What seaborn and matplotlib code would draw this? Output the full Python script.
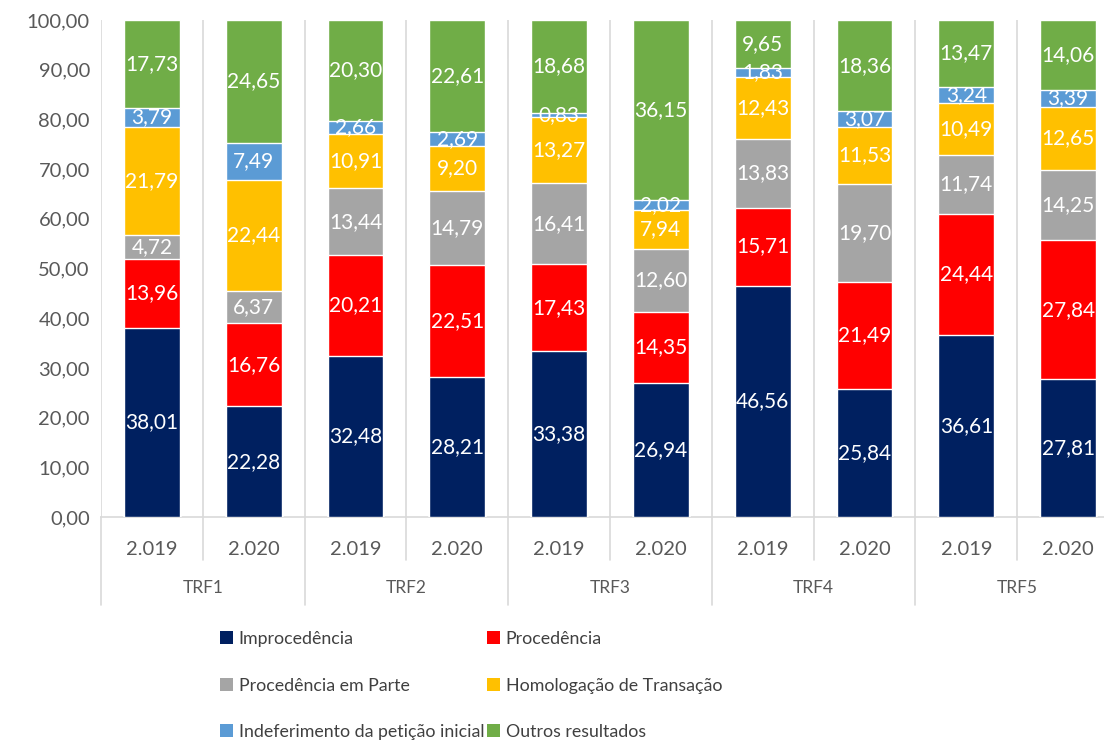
import numpy as np
import pandas as pd
import seaborn as sns
import matplotlib.pyplot as plt
from matplotlib.patches import Patch
import matplotlib.transforms as mtransforms

# dados
tribunais = ["TRF1", "TRF2", "TRF3", "TRF4", "TRF5"]
anos = ["2.019", "2.020"]
categorias = ["Improcedência", "Procedência", "Procedência em Parte",
              "Homologação de Transação", "Indeferimento da petição inicial",
              "Outros resultados"]
cores = ["#002060", "#FF0000", "#A5A5A5", "#FFC000", "#5B9BD5", "#70AD47"]

improcedencia = [38.01, 22.28, 32.48, 28.21, 33.38, 26.94, 46.56, 25.84, 36.61, 27.81]
procedencia = [13.96, 16.76, 20.21, 22.51, 17.43, 14.35, 15.71, 21.49, 24.44, 27.84]
proc_parte = [4.72, 6.37, 13.44, 14.79, 16.41, 12.60, 13.83, 19.70, 11.74, 14.25]
homologacao = [21.79, 22.44, 10.91, 9.20, 13.27, 7.94, 12.43, 11.53, 10.49, 12.65]
indeferimento = [3.79, 7.49, 2.66, 2.69, 0.83, 2.02, 1.83, 3.07, 3.24, 3.39]
outros = [17.73, 24.65, 20.30, 22.61, 18.68, 36.15, 9.65, 18.36, 13.47, 14.06]

yticks = [0, 10, 20, 30, 40, 50, 60, 70, 80, 90, 100]

series = [improcedencia, procedencia, proc_parte, homologacao, indeferimento, outros]
posicoes = [t + " " + a for t in tribunais for a in anos]

df = pd.DataFrame({"pos": posicoes})
for cat, vals in zip(categorias, series):
    df[cat] = vals
cum = df[categorias].cumsum(axis=1)

sns.set_style("white")
plt.rcParams['font.family'] = ['Lato', 'DejaVu Sans']

fig = plt.figure(figsize=(11.04, 7.44), dpi=100)
ax = fig.add_axes([101 / 1104, 1 - 517 / 744, 1018 / 1104, 497 / 744])

# camadas empilhadas, de cima para baixo
for i in range(len(categorias) - 1, -1, -1):
    sns.barplot(x=df["pos"], y=cum[categorias[i]], color=cores[i], width=0.55,
                order=posicoes, errorbar=None, saturation=1, ax=ax, zorder=3)

# rótulos
for i, cat in enumerate(categorias):
    for j in range(len(posicoes)):
        v = df[cat].iloc[j]
        y = cum[cat].iloc[j] - v / 2
        ax.text(j, y, f"{v:.2f}".replace(".", ","), ha="center", va="center",
                color="white", fontsize=15, zorder=5)

ax.set_xlim(-0.5, len(posicoes) - 0.5)
ax.set_ylim(0, 100)
ax.set_yticks(yticks)
ax.set_yticklabels([f"{t:.2f}".replace(".", ",") for t in yticks],
                   color="#595959", fontsize=14.5)
ax.tick_params(axis="y", length=0, pad=8)

ax.set_xticks(range(len(posicoes)))
ax.set_xticklabels(anos * len(tribunais), color="#595959", fontsize=14.5)
ax.tick_params(axis="x", length=0, pad=17)
ax.set_xlabel("")
ax.set_ylabel("")

for s in ["top", "right", "left"]:
    ax.spines[s].set_visible(False)
ax.spines["bottom"].set_color("#D9D9D9")
ax.spines["bottom"].set_linewidth(1.2)

# linhas verticais entre as barras
ax.vlines(np.arange(-0.5, len(posicoes), 1), 0, 100, color="#D9D9D9",
          linewidth=1.2, zorder=1)

trans = mtransforms.blended_transform_factory(ax.transData, ax.transAxes)
for j in range(len(posicoes) + 1):
    x = j - 0.5
    y_fim = -0.178 if j % 2 == 0 else -0.087
    ax.plot([x, x], [0, y_fim], color="#D9D9D9", linewidth=1.2,
            transform=trans, clip_on=False)

for k, t in enumerate(tribunais):
    ax.text(2 * k + 0.5, -0.143, t, transform=trans, ha="center", va="center",
            color="#595959", fontsize=12.5)

handles = [Patch(facecolor=c, edgecolor="none") for c in cores]
ordem = [0, 2, 4, 1, 3, 5]
fig.legend([handles[i] for i in ordem], [categorias[i] for i in ordem],
           loc="upper left", bbox_to_anchor=(220 / 1104, 1 - 631 / 744),
           ncol=2, frameon=False, fontsize=12.8, labelcolor="#404040",
           handlelength=0.75, handleheight=0.75, handletextpad=0.3,
           labelspacing=1.72, columnspacing=0.15, borderpad=0, borderaxespad=0)

fig.savefig("out.png", dpi=100)
